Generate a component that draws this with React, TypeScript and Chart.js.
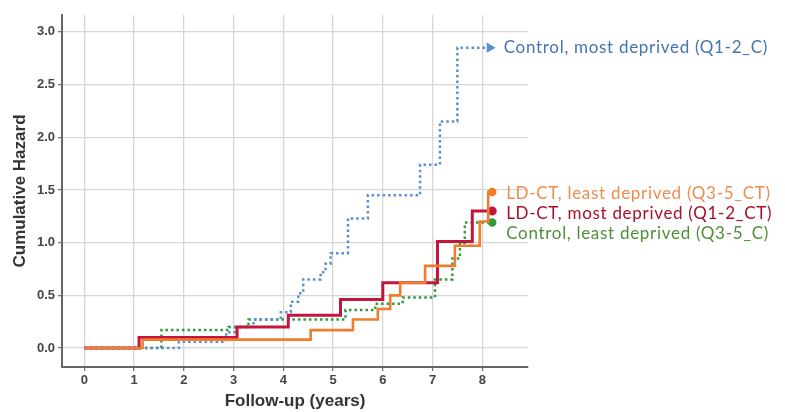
import React, { useEffect, useRef } from "react";
import { Chart, registerables } from "chart.js";
Chart.register(...registerables);

// Axis ticks
const xTicks = [0, 1, 2, 3, 4, 5, 6, 7, 8];
const yTicks = [0, 0.5, 1, 1.5, 2, 2.5, 3];

// Control, most deprived (Q1-2_C)
const ctrlMostT = [0, 1.9, 2.85, 3.05, 3.4, 3.95, 4.15, 4.3, 4.4, 4.75, 4.85, 4.95, 5.3, 5.7, 6.75, 7.15, 7.5, 8.15];
const ctrlMostH = [0, 0.06, 0.15, 0.2, 0.27, 0.34, 0.44, 0.52, 0.65, 0.72, 0.8, 0.9, 1.23, 1.45, 1.74, 2.15, 2.85, 2.85];

// LD-CT, least deprived (Q3-5_CT)
const ctLeastT = [0, 1.17, 4.55, 5.4, 5.9, 6.15, 6.35, 6.85, 7.45, 7.95, 8.12, 8.2];
const ctLeastH = [0, 0.08, 0.17, 0.27, 0.37, 0.5, 0.62, 0.78, 0.97, 1.2, 1.48, 1.48];

// LD-CT, most deprived (Q1-2_CT)
const ctMostT = [0, 1.1, 3.07, 4.1, 5.15, 6.0, 7.1, 7.8, 8.2];
const ctMostH = [0, 0.1, 0.2, 0.31, 0.46, 0.62, 1.01, 1.3, 1.3];

// Control, least deprived (Q3-5_C)
const ctrlLeastT = [0, 1.55, 2.9, 3.3, 5.25, 5.85, 6.4, 7.05, 7.4, 7.55, 7.65, 8.2];
const ctrlLeastH = [0, 0.17, 0.2, 0.27, 0.36, 0.42, 0.48, 0.65, 0.85, 1.0, 1.19, 1.19];

const labels = [
  "LD-CT, least deprived (Q3-5_CT)",
  "LD-CT, most deprived (Q1-2_CT)",
  "Control, most deprived (Q1-2_C)",
  "Control, least deprived (Q3-5_C)",
];

const pts = (t: number[], h: number[]) => t.map((x, i) => ({ x, y: h[i] }));

const endLabels = {
  id: "endLabels",
  afterDatasetsDraw(chart: any) {
    const ctx = chart.ctx;
    chart.data.datasets.forEach((ds: any, i: number) => {
      const meta = chart.getDatasetMeta(i);
      const p = meta.data[meta.data.length - 1];
      ctx.save();
      ctx.font = "17px Lato";
      (ctx as any).letterSpacing = "0.7px";
      ctx.fillStyle = ds.labelColor;
      ctx.textBaseline = "middle";
      ctx.textAlign = "left";
      ctx.fillText(ds.label, p.x + 14, p.y + ds.labelDy);
      ctx.restore();
    });
  },
};

export default function App() {
  const ref = useRef<HTMLCanvasElement>(null);
  useEffect(() => {
    document.body.style.margin = "0";
    const lastR = (n: number, r: number) => (c: any) => (c.dataIndex === n - 1 ? r : 0);
    const tickFont = { family: "Liberation Sans", size: 13, weight: "bold" as const };
    const titleFont = { family: "Liberation Sans", size: 17, weight: "bold" as const };
    const chart = new Chart(ref.current!, {
      type: "line",
      data: {
        datasets: [
          {
            label: labels[0],
            data: pts(ctLeastT, ctLeastH),
            borderColor: "#f07d2e",
            backgroundColor: "#f07d2e",
            borderWidth: 2.6,
            stepped: true,
            pointRadius: lastR(ctLeastT.length, 3),
            labelColor: "#ee8c4e",
            labelDy: 1,
          } as any,
          {
            label: labels[1],
            data: pts(ctMostT, ctMostH),
            borderColor: "#c4163c",
            backgroundColor: "#c4163c",
            borderWidth: 3,
            stepped: true,
            pointRadius: lastR(ctMostT.length, 3),
            labelColor: "#a80f28",
            labelDy: 2,
          } as any,
          {
            label: labels[2],
            data: pts(ctrlMostT, ctrlMostH),
            borderColor: "#5a8fd2",
            backgroundColor: "#5a8fd2",
            borderWidth: 2.5,
            borderDash: [2.5, 3],
            stepped: true,
            pointStyle: "triangle",
            rotation: 90,
            pointRadius: lastR(ctrlMostT.length, 3.5),
            labelColor: "#4274b8",
            labelDy: 0,
          } as any,
          {
            label: labels[3],
            data: pts(ctrlLeastT, ctrlLeastH),
            borderColor: "#2e9a3a",
            backgroundColor: "#2e9a3a",
            borderWidth: 2.5,
            borderDash: [2.5, 3],
            stepped: true,
            pointRadius: lastR(ctrlLeastT.length, 3),
            labelColor: "#4e8f36",
            labelDy: 11,
          } as any,
        ],
      },
      options: {
        animation: false,
        responsive: false,
        layout: { padding: { top: 15, right: 257, left: 0, bottom: 0 } },
        plugins: { legend: { display: false }, tooltip: { enabled: false } },
        scales: {
          x: {
            type: "linear",
            min: -0.45,
            max: 8.92,
            afterBuildTicks: (s: any) => {
              s.ticks = xTicks.map((v) => ({ value: v }));
            },
            afterFit: (s: any) => {
              s.height = 45;
            },
            grid: { color: "#d6d6d6", lineWidth: 1.3, tickLength: 4, tickColor: "#777" },
            border: { display: true, color: "#666", width: 2 },
            ticks: {
              padding: 2,
              color: "#444",
              font: tickFont,
              callback: (v: any) => String(v),
            },
            title: {
              display: true,
              text: "Follow-up (years)",
              color: "#333",
              font: titleFont,
              padding: { top: 0, bottom: 0 },
            },
          },
          y: {
            type: "linear",
            min: -0.18,
            max: 3.16,
            afterBuildTicks: (s: any) => {
              s.ticks = yTicks.map((v) => ({ value: v }));
            },
            afterFit: (s: any) => {
              s.width = 62;
            },
            grid: { color: "#d6d6d6", lineWidth: 1.3, tickLength: 4, tickColor: "#777" },
            border: { display: true, color: "#666", width: 2 },
            ticks: {
              padding: 3,
              color: "#444",
              font: tickFont,
              callback: (v: any) => Number(v).toFixed(1),
            },
            title: {
              display: true,
              text: "Cumulative Hazard",
              color: "#333",
              font: titleFont,
              padding: { top: 10, bottom: 0 },
            },
          },
        },
      },
      plugins: [endLabels],
    });
    return () => chart.destroy();
  }, []);
  return (
    <div style={{ width: 785, height: 412 }}>
      <canvas ref={ref} width={785} height={412} />
    </div>
  );
}
